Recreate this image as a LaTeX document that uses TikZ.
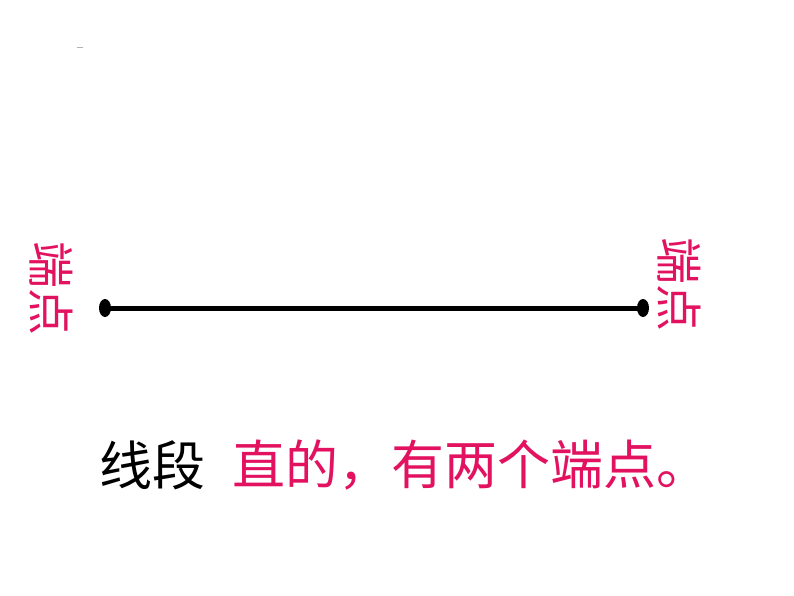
\documentclass[tikz,border=0pt]{standalone}
\usepackage{fontspec}
\newfontfamily\cjk{Noto Sans CJK SC}
\definecolor{rosered}{RGB}{226,18,96}
\begin{document}
\begin{tikzpicture}[x=1pt,y=-1pt,
  endlabel/.style={text=rosered,font=\cjk\fontsize{47}{47}\selectfont,rotate=-90,inner sep=0pt},
  seg/.style={line width=5pt}]
\useasboundingbox (0,0) rectangle (794,596);
\draw[gray!60,line width=1pt] (77,48) -- (83,48);
\node[circle,fill=black,inner sep=0pt,minimum size=1pt] (A) at (105,308) {};
\node[circle,fill=black,inner sep=0pt,minimum size=1pt] (B) at (643,308) {};
\draw[seg] (A.center) -- (B.center);
\fill (A.center) ellipse (6 and 9);
\fill (B.center) ellipse (6 and 9);
\node[endlabel] (LA) at (51,288) {端点};
\node[endlabel] (LB) at (679,284) {端点};
\node[anchor=west,inner sep=0pt,font=\cjk\fontsize{53}{53}\selectfont] (T1) at (99,465) {线段};
\node[anchor=west,inner sep=0pt,text=rosered,font=\cjk\fontsize{53}{53}\selectfont] (T2) at (232,465) {直的，有两个端点。};
\end{tikzpicture}
\end{document}
